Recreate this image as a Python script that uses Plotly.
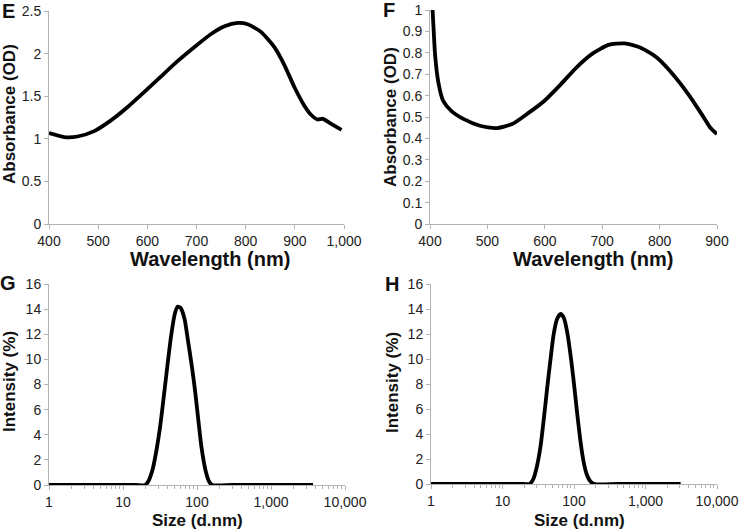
import plotly.graph_objects as go

# ---------------- data ----------------
# Panel E: UV-vis absorbance
e_wavelength = [400, 431, 458, 492, 526, 560, 594, 628, 662, 696, 729, 757, 784, 804,
                831, 858, 879, 899, 919, 933, 946, 957, 974, 995]
e_absorbance = [1.067, 1.02, 1.027, 1.09, 1.216, 1.373, 1.55, 1.733, 1.914, 2.078, 2.227,
                2.32, 2.36, 2.345, 2.255, 2.078, 1.863, 1.608, 1.392, 1.282, 1.227, 1.235,
                1.176, 1.106]

# Panel F: UV-vis absorbance
f_wavelength = [404.5, 406, 409, 414.6, 423, 437, 459, 487, 515, 543, 571, 599, 627, 655,
                683, 711, 739, 767, 795, 823, 852, 874, 888, 900]
f_absorbance = [1.0, 0.925, 0.785, 0.661, 0.575, 0.529, 0.49, 0.459, 0.448, 0.467, 0.518,
                0.575, 0.65, 0.731, 0.796, 0.837, 0.844, 0.824, 0.778, 0.70, 0.599, 0.51,
                0.451, 0.42]

# Panel G: DLS size distribution
g_size = [1, 2, 5, 10, 15, 20, 22, 25, 28, 32, 36, 40, 45, 50, 55, 60, 68, 75, 85, 95,
          105, 115, 130, 145, 160, 300, 1000, 3700]
g_intensity = [0, 0, 0, 0, 0, 0, 0.3, 1.2, 2.6, 4.8, 7.3, 9.6, 12.0, 13.6, 14.2, 14.1,
               13.2, 11.6, 9.5, 7.3, 5.0, 3.0, 1.2, 0.3, 0, 0, 0, 0]

# Panel H: DLS size distribution
h_size = [1, 2, 5, 10, 15, 20, 24, 27, 30, 34, 38, 42, 47, 52, 58, 65, 72, 80, 90, 100,
          110, 122, 135, 150, 170, 195, 400, 1000, 3100]
h_intensity = [0, 0, 0, 0, 0, 0, 0, 0.4, 1.3, 3.0, 5.3, 7.6, 10.0, 12.0, 13.2, 13.6, 13.3,
               12.2, 10.2, 8.0, 5.8, 3.6, 1.9, 0.8, 0.2, 0, 0, 0, 0]

# tick labels
wl_e_ticks = [400, 500, 600, 700, 800, 900, 1000]
wl_e_labels = ["400", "500", "600", "700", "800", "900", "1,000"]
wl_f_ticks = [400, 500, 600, 700, 800, 900]
size_ticks = [1, 10, 100, 1000, 10000]
size_labels = ["1", "10", "100", "1,000", "10,000"]
panel_letters = ["E", "F", "G", "H"]

# ---------------- figure ----------------
W, H = 746, 530
FONT = "Liberation Sans, Arial, sans-serif"
AXC = "#b3b3b3"
line = dict(color="black", width=3.8, shape="spline", smoothing=0.6)


def px(x):
    return x / W


def py(y):
    return 1 - y / H


fig = go.Figure()
fig.add_trace(go.Scatter(x=e_wavelength, y=e_absorbance, mode="lines", line=line,
                         xaxis="x", yaxis="y", showlegend=False))
fig.add_trace(go.Scatter(x=f_wavelength, y=f_absorbance, mode="lines", line=line,
                         xaxis="x2", yaxis="y2", showlegend=False))
fig.add_trace(go.Scatter(x=g_size, y=g_intensity, mode="lines", line=line,
                         xaxis="x3", yaxis="y3", showlegend=False))
fig.add_trace(go.Scatter(x=h_size, y=h_intensity, mode="lines", line=line,
                         xaxis="x4", yaxis="y4", showlegend=False))

common = dict(showline=True, linecolor=AXC, linewidth=1, ticks="outside", ticklen=4,
              tickcolor=AXC, showgrid=False, zeroline=False, automargin=False,
              tickfont=dict(family=FONT, size=14, color="#222"))

fig.update_layout(
    width=W, height=H, margin=dict(l=0, r=0, t=0, b=0, autoexpand=False),
    paper_bgcolor="white", plot_bgcolor="white",
    xaxis=dict(common, domain=[px(49), px(344)], range=[400, 1000], anchor="y",
               tickvals=wl_e_ticks, ticktext=wl_e_labels),
    yaxis=dict(common, domain=[py(224), py(11)], range=[0, 2.5], anchor="x", dtick=0.5),
    xaxis2=dict(common, domain=[px(430), px(717)], range=[400, 900], anchor="y2",
                tickvals=wl_f_ticks),
    yaxis2=dict(common, domain=[py(224), py(10)], range=[0, 1], anchor="x2", dtick=0.1),
    xaxis3=dict(common, type="log", domain=[px(49), px(345)], range=[0, 4], anchor="y3",
                tickvals=size_ticks, ticktext=size_labels,
                minor=dict(ticks="outside", ticklen=3, tickcolor=AXC, dtick="D1")),
    yaxis3=dict(common, domain=[py(485), py(284)], range=[0, 16], anchor="x3", dtick=2),
    xaxis4=dict(common, type="log", domain=[px(431), px(717)], range=[0, 4], anchor="y4",
                tickvals=size_ticks, ticktext=size_labels,
                minor=dict(ticks="outside", ticklen=3, tickcolor=AXC, dtick="D1")),
    yaxis4=dict(common, domain=[py(484), py(284)], range=[0, 16], anchor="x4", dtick=2),
)

ytitle_font = dict(family=FONT, size=17, color="#111")
wl_font = dict(family=FONT, size=20, color="#111")
ann = []
# x titles
ann.append(dict(text="<b>Wavelength (nm)</b>", x=px(210), y=py(259), font=wl_font))
ann.append(dict(text="<b>Wavelength (nm)</b>", x=px(593), y=py(259), font=wl_font))
ann.append(dict(text="<b>Size (d.nm)</b>", x=px(197), y=py(520), font=ytitle_font))
ann.append(dict(text="<b>Size (d.nm)</b>", x=px(579), y=py(520), font=ytitle_font))
# y titles
ann.append(dict(text="<b>Absorbance (OD)</b>", x=px(10), y=py(114), textangle=-90,
                font=ytitle_font))
ann.append(dict(text="<b>Absorbance (OD)</b>", x=px(390), y=py(117), textangle=-90,
                font=ytitle_font))
ann.append(dict(text="<b>Intensity (%)</b>", x=px(9), y=py(382), textangle=-90,
                font=ytitle_font))
ann.append(dict(text="<b>Intensity (%)</b>", x=px(392), y=py(383), textangle=-90,
                font=ytitle_font))
for a in ann:
    a.update(xref="paper", yref="paper", showarrow=False,
             xanchor="center", yanchor="middle")
# panel letters
letter_pos = [(8, 11), (389, 10), (8, 283), (392, 284)]
for letter, (lx, ly) in zip(panel_letters, letter_pos):
    ann.append(dict(text="<b>%s</b>" % letter, x=px(lx), y=py(ly), xref="paper",
                    yref="paper", showarrow=False, xanchor="center", yanchor="middle",
                    font=dict(family=FONT, size=20, color="#111")))
fig.update_layout(annotations=ann)

fig.write_html("out.html",
               config={"displayModeBar": False},
               post_script="document.body.style.margin='0px';"
                           "document.body.style.overflow='hidden';")
